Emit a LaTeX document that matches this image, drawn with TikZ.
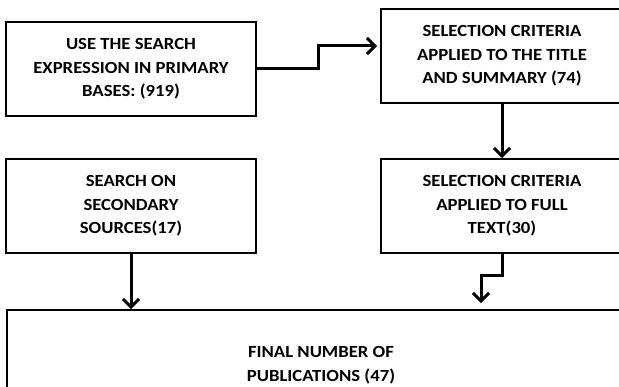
\documentclass[tikz,border=0pt]{standalone}
\usepackage{fontspec}
\setmainfont{Carlito}[FakeStretch=1.1]
\usetikzlibrary{calc,arrows.meta}

\begin{document}
\begin{tikzpicture}[x=1pt,y=-1pt,
  box/.style={draw,line width=1.8pt,align=center,inner sep=0pt,
    font=\bfseries\fontsize{17}{23.5}\selectfont},
  arr/.style={-{Straight Barb[length=8pt,width=16pt]},line width=3pt}]
\clip (0,0) rectangle (619,387);
% boxes
\node[box,minimum width=250,minimum height=94] (use) at (131,69) {USE THE SEARCH\\EXPRESSION IN PRIMARY\\BASES: (919)};
\node[box,minimum width=242,minimum height=94] (crit) at (502,56) {SELECTION CRITERIA\\APPLIED TO THE TITLE\\AND SUMMARY (74)};
\node[box,minimum width=250,minimum height=94] (second) at (131,206) {SEARCH ON\\SECONDARY\\SOURCES(17)};
\node[box,minimum width=242,minimum height=94] (full) at (502,206) {SELECTION CRITERIA\\APPLIED TO FULL\\TEXT(30)};
\node[box,minimum width=628,minimum height=110] (final) at (321,365) {FINAL NUMBER OF\\PUBLICATIONS (47)};
% arrows
\draw[arr,shorten >=3pt] (use.east) -- ++(62,0) |- ([yshift=10pt]crit.west);
\draw[arr] (crit.south) -- (full.north);
\draw[arr] (second.south) -- (second.south |- final.north);
\draw[arr,shorten >=6pt] (full.south) -- ++(0,22) -| ([xshift=-21pt]full.south |- final.north);
\end{tikzpicture}
\end{document}
